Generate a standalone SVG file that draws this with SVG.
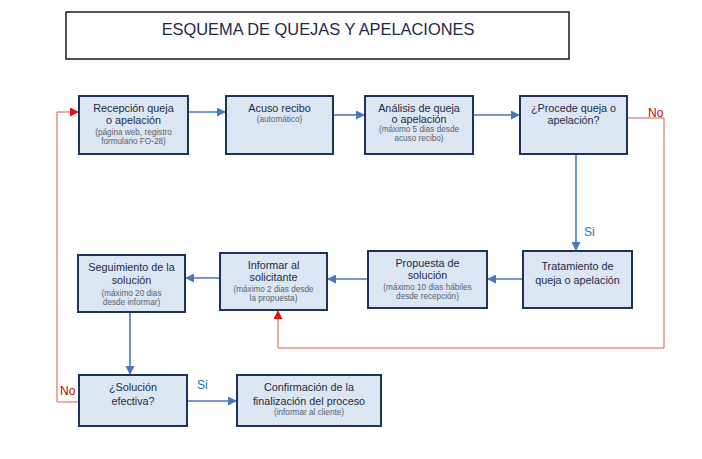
<svg xmlns="http://www.w3.org/2000/svg" width="702" height="459" viewBox="0 0 702 459">
<style>
.box{fill:#dce6f2;stroke:#1f3359;stroke-width:2}
.t{font-family:"Liberation Sans",Arial,sans-serif;font-size:10.8px;fill:#1c2a48;text-anchor:middle}
.s{font-family:"Liberation Sans",Arial,sans-serif;font-size:8.2px;fill:#5a6070;text-anchor:middle}
.b{fill:none;stroke:#4a76bd;stroke-width:1.6}
.r{fill:none;stroke:#d25a55;stroke-width:1}
.lr{font-family:"Liberation Sans",Arial,sans-serif;font-size:12px;fill:#c00000}
.lb{font-family:"Liberation Sans",Arial,sans-serif;font-size:12px;fill:#2e6db4}
</style>
<defs>
<marker id="ab" viewBox="0 0 10 10" refX="10" refY="5" markerWidth="10" markerHeight="9" markerUnits="userSpaceOnUse" orient="auto"><path d="M0,0L10,5L0,10z" fill="#4a76bd"/></marker>
<marker id="ar" viewBox="0 0 10 10" refX="10" refY="5" markerWidth="10" markerHeight="9" markerUnits="userSpaceOnUse" orient="auto"><path d="M0,0L10,5L0,10z" fill="#e3120b"/></marker>
</defs>
<rect width="702" height="459" fill="#ffffff"/>
<g id="title">
<rect x="66" y="12" width="503" height="47" fill="#ffffff" stroke="#1a1a1a" stroke-width="1.5"/>
<text x="318" y="35" font-family="'Liberation Sans',Arial,sans-serif" font-size="16.4" fill="#1c2a48" text-anchor="middle">ESQUEMA DE QUEJAS Y APELACIONES</text>
</g>
<g id="connectors">
<path class="b" d="M188,112H226" marker-end="url(#ab)"/>
<path class="b" d="M333,115H365" marker-end="url(#ab)"/>
<path class="b" d="M473,115H520" marker-end="url(#ab)"/>
<path class="b" d="M576,154V251" marker-end="url(#ab)"/>
<path class="b" d="M523,279H487" marker-end="url(#ab)"/>
<path class="b" d="M368,279H327" marker-end="url(#ab)"/>
<path class="b" d="M220,278H185" marker-end="url(#ab)"/>
<path class="b" d="M130,312V375" marker-end="url(#ab)"/>
<path class="b" d="M187,401H237" marker-end="url(#ab)"/>
<path class="r" d="M627,118H664V348H278V310" marker-end="url(#ar)"/>
<path class="r" d="M79,402H57V112H79" marker-end="url(#ar)"/>
<text class="lr" x="648" y="117">No</text>
<text class="lb" x="584" y="236">Si</text>
<text class="lr" x="60" y="395">No</text>
<text class="lb" x="197" y="389">Si</text>
</g>
<g id="recepcion">
<rect class="box" x="79" y="96" width="109" height="58"/>
<text class="t" x="133.5" y="112">Recepción queja</text>
<text class="t" x="133.5" y="124">o apelación</text>
<text class="s" x="133.5" y="135">(página web, registro</text>
<text class="s" x="133.5" y="144">formulario FO-28)</text>
</g>
<g id="acuso">
<rect class="box" x="226" y="96" width="107" height="58"/>
<text class="t" x="279.5" y="112">Acuso recibo</text>
<text class="s" x="279.5" y="122">(automático)</text>
</g>
<g id="analisis">
<rect class="box" x="365" y="96" width="108" height="58"/>
<text class="t" x="419" y="112">Análisis de queja</text>
<text class="t" x="419" y="123">o apelación</text>
<text class="s" x="419" y="132">(máximo 5 dias desde</text>
<text class="s" x="419" y="141">acuso recibo)</text>
</g>
<g id="procede">
<rect class="box" x="520" y="96" width="107" height="58"/>
<text class="t" x="573.5" y="112">¿Procede queja o</text>
<text class="t" x="573.5" y="124">apelación?</text>
</g>
<g id="tratamiento">
<rect class="box" x="523" y="251" width="109" height="57"/>
<text class="t" x="577.5" y="270">Tratamiento de</text>
<text class="t" x="577.5" y="284">queja o apelación</text>
</g>
<g id="propuesta">
<rect class="box" x="368" y="251" width="119" height="57"/>
<text class="t" x="427.5" y="267">Propuesta de</text>
<text class="t" x="427.5" y="279">solución</text>
<text class="s" x="427.5" y="290">(máximo 10 dias hábiles</text>
<text class="s" x="427.5" y="299">desde recepción)</text>
</g>
<g id="informar">
<rect class="box" x="220" y="253" width="107" height="57"/>
<text class="t" x="273.5" y="269">Informar al</text>
<text class="t" x="273.5" y="281">solicitante</text>
<text class="s" x="273.5" y="292">(máximo 2 dias desde</text>
<text class="s" x="273.5" y="301">la propuesta)</text>
</g>
<g id="seguimiento">
<rect class="box" x="78" y="255" width="107" height="57"/>
<text class="t" x="131.5" y="271">Seguimiento de la</text>
<text class="t" x="131.5" y="284">solución</text>
<text class="s" x="131.5" y="296">(máximo 20 dias</text>
<text class="s" x="131.5" y="305">desde informar)</text>
</g>
<g id="solucion">
<rect class="box" x="79" y="375" width="108" height="51"/>
<text class="t" x="133" y="391">¿Solución</text>
<text class="t" x="133" y="405">efectiva?</text>
</g>
<g id="confirmacion">
<rect class="box" x="237" y="375" width="144" height="51"/>
<text class="t" x="309" y="391">Confirmación de la</text>
<text class="t" x="309" y="405">finalización del proceso</text>
<text class="s" x="309" y="415">(informar al cliente)</text>
</g>
</svg>
